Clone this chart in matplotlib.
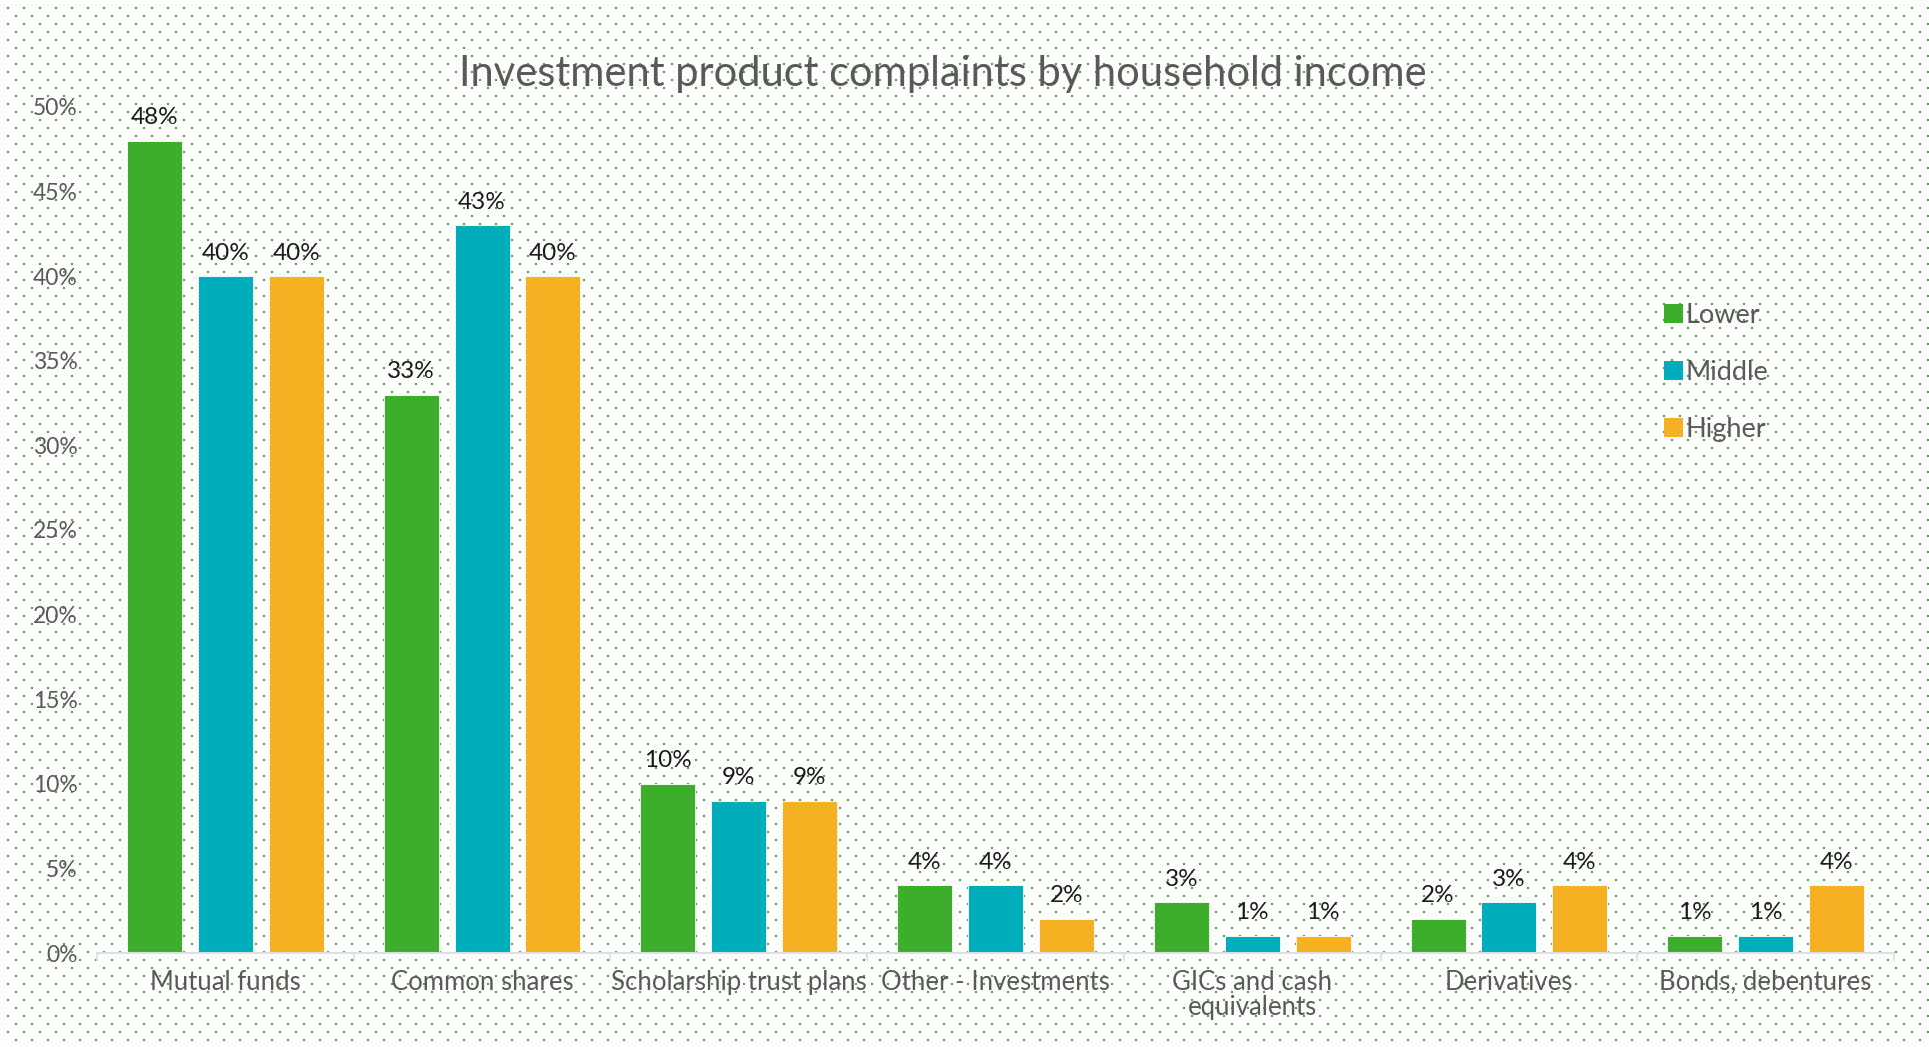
import numpy as np
import matplotlib
matplotlib.use('Agg')
import matplotlib.pyplot as plt
from matplotlib.patches import Patch

plt.rcParams['font.family'] = ['Lato', 'DejaVu Sans']

# data
categories = ['Mutual funds', 'Common shares', 'Scholarship trust plans', 'Other - Investments',
              'GICs and cash\nequivalents', 'Derivatives', 'Bonds, debentures']
series_names = ['Lower', 'Middle', 'Higher']
lower = [48, 33, 10, 4, 3, 2, 1]
middle = [40, 43, 9, 4, 1, 3, 1]
higher = [40, 40, 9, 2, 1, 4, 4]
colors = ['#3dae2b', '#00adbb', '#f5b122']
y_ticks = [0, 5, 10, 15, 20, 25, 30, 35, 40, 45, 50]

W, H = 1929, 1047
fig = plt.figure(figsize=(W / 100, H / 100), dpi=100)
fig.patch.set_facecolor('white')

# dotted background pattern
bg = fig.add_axes([0, 0, 1, 1], zorder=0)
bg.set_xlim(0, W)
bg.set_ylim(H, 0)
bg.axis('off')
dx, dy = [], []
for r, yy in enumerate(np.arange(8, H, 8)):
    start = 8 if r % 2 == 0 else 16
    for xx in np.arange(start, W, 16):
        dx.append(xx)
        dy.append(yy)
bg.scatter(dx, dy, s=2.0, marker='s', color='#3dae2b', linewidths=0)

ax = fig.add_axes([97 / W, 1 - 953 / H, (1894 - 97) / W, (953 - 107) / H], zorder=1)
ax.patch.set_alpha(0)

x = np.arange(len(categories))
width = 0.214
step = 0.276
for i, (vals, name, c) in enumerate(zip([lower, middle, higher], series_names, colors)):
    pos = x + (i - 1) * step
    ax.bar(pos, vals, width, color=c, edgecolor='white', linewidth=0.6, label=name, zorder=2)
    for px, v in zip(pos, vals):
        ax.annotate(f'{v}%', (px, v), xytext=(0, 12), textcoords='offset points',
                    ha='center', va='baseline', fontsize=17.5, color='#1a1a1a')

ax.set_xlim(-0.5, len(categories) - 0.5)
ax.set_ylim(0, 50)
ax.set_yticks(y_ticks)
ax.set_yticklabels([f'{t}%' for t in y_ticks])
ax.tick_params(axis='y', length=0, pad=14, labelsize=16.5, labelcolor='#595959')

ax.set_xticks(x)
ax.set_xticklabels(categories, linespacing=1.0)
ax.tick_params(axis='x', which='major', length=0, pad=12, labelsize=18.5, labelcolor='#595959')
ax.set_xticks(np.arange(-0.5, len(categories), 1), minor=True)
ax.tick_params(axis='x', which='minor', length=6, width=1.2, color='#d9dee2')

for s in ['top', 'right', 'left']:
    ax.spines[s].set_visible(False)
ax.spines['bottom'].set_color('#d9dee2')
ax.spines['bottom'].set_linewidth(1.5)

handles = [Patch(facecolor=c, label=n) for c, n in zip(colors, series_names)]
leg = fig.legend(handles=handles, loc='upper left', bbox_to_anchor=(1664 / W, 1 - 303 / H),
                 frameon=False, fontsize=19.5, handlelength=0.7, handleheight=0.7,
                 handletextpad=0.1, labelspacing=1.18, borderpad=0, borderaxespad=0)
for t in leg.get_texts():
    t.set_color('#595959')

fig.text(943 / W, 1 - 74 / H, 'Investment product complaints by household income',
         ha='center', va='center', fontsize=30, color='#595959')

fig.savefig('out.png', dpi=100, facecolor='white')
